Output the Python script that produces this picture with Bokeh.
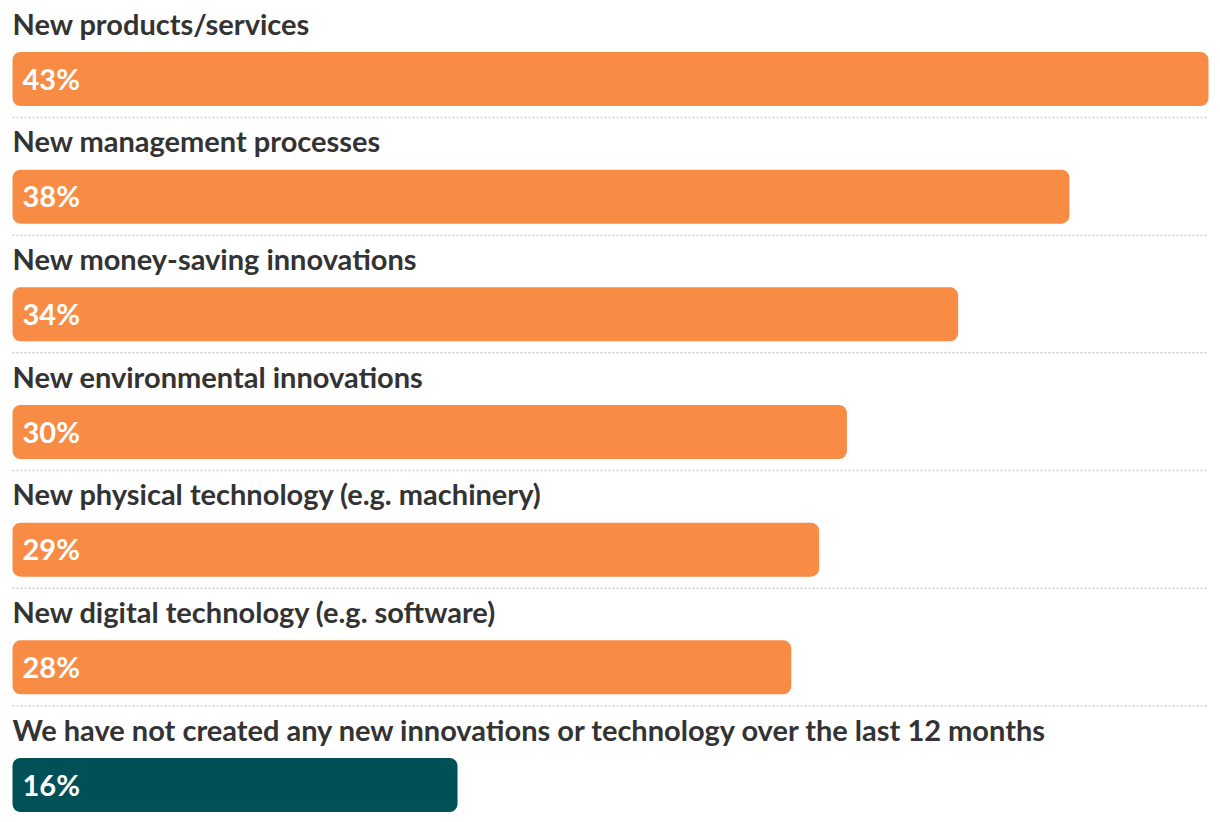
from bokeh.plotting import figure
from bokeh.models import Range1d, ColumnDataSource
from bokeh.core.properties import value
from bokeh.embed import file_html
from bokeh.resources import INLINE

categories = [
    "New products/services",
    "New management processes",
    "New money-saving innovations",
    "New environmental innovations",
    "New physical technology (e.g. machinery)",
    "New digital technology (e.g. software)",
    "We have not created any new innovations or technology over the last 12 months",
]
values = [43, 38, 34, 30, 29, 28, 16]
colors = ["#F98C45"] * 6 + ["#005157"]

W, H = 1220, 822
pitch = 117.67
rows = list(range(len(categories)))
labels_pct = [f"{v}%" for v in values]

src = ColumnDataSource(dict(
    y=rows, v=values, c=colors, cat=categories, pct=labels_pct,
    ylab=[r - 56 / pitch for r in rows],
    ypct=[r - 1 / pitch for r in rows],
))

s = 1196 / 43
x0 = -12 / s
x1 = x0 + W / s
top = -78.5 / pitch
bottom = top + H / pitch

p = figure(width=W, height=H, output_backend="svg", toolbar_location=None,
           x_range=Range1d(x0, x1), y_range=Range1d(bottom, top),
           min_border=0, min_border_left=0, min_border_right=0,
           min_border_top=0, min_border_bottom=0)
p.axis.visible = False
p.grid.visible = False
p.outline_line_color = None
p.background_fill_color = "white"

# separators
sep_y = [r + 38.5 / pitch for r in rows[:-1]]
p.segment(x0=[0] * len(sep_y), x1=[max(values)] * len(sep_y), y0=sep_y, y1=sep_y,
          line_color="#cfcfcf", line_width=1.5, line_dash="2 2")

p.hbar(y="y", left=0, right="v", height=54 / pitch, fill_color="c", line_color=None,
       border_radius=8, source=src)

p.text(x=0, y="ylab", text="cat", source=src, text_font=value("Lato"),
       text_font_style="bold", text_font_size="29px", text_color="#333333",
       text_baseline="middle", text_align="left", x_offset=0)

p.text(x=0, y="ypct", text="pct", source=src, text_font=value("Lato"),
       text_font_style="bold", text_font_size="29px", text_color="white",
       text_baseline="middle", text_align="left", x_offset=10)

open("out.html", "w").write(file_html(p, INLINE))
